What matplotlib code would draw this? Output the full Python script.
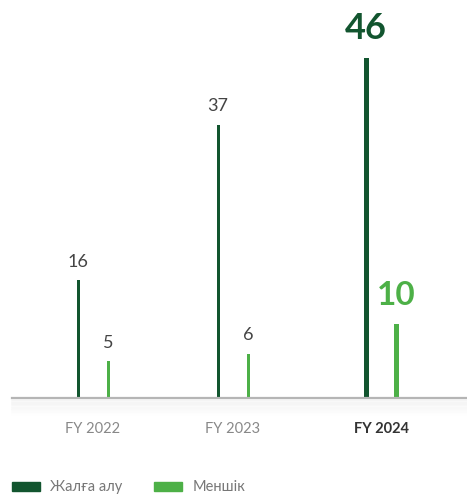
import matplotlib.pyplot as plt

# =========================
# DATA
# =========================
years = ["FY 2022", "FY 2023", "FY 2024"]
leased = [16, 37, 46]      # Жалға алу
owned = [5, 6, 10]         # Меншік
series_names = ["Жалға алу", "Меншік"]

# =========================
# STYLE
# =========================
plt.rcParams['font.family'] = ['Lato', 'DejaVu Sans']
dark = "#12552f"
light = "#4db047"
grey_txt = "#444444"

fig = plt.figure(figsize=(4.67, 4.94), dpi=100)
ax = fig.add_axes([12 / 467, 96 / 494, 455 / 467, 398 / 494])

pos = [0, 1, 2.057]
off = 0.107
widths = [0.022, 0.022, 0.036]

for i, (a, b) in enumerate(zip(leased, owned)):
    last = i == len(years) - 1
    ax.bar(pos[i] - off, a, width=widths[i], color=dark)
    ax.bar(pos[i] + off, b, width=widths[i], color=light)
    if last:
        ax.text(pos[i] - off, a + 1.8, str(a), ha="center", va="bottom",
                fontsize=26, fontweight="bold", color=dark)
        ax.text(pos[i] + off, b + 1.9, str(b), ha="center", va="bottom",
                fontsize=24, fontweight="bold", color=light)
    else:
        ax.text(pos[i] - off, a + 1.4, str(a), ha="center", va="bottom",
                fontsize=13, color=grey_txt)
        ax.text(pos[i] + off, b + 1.4, str(b), ha="center", va="bottom",
                fontsize=13, color=grey_txt)

ax.set_xlim(-0.579, 2.671)
ax.set_ylim(0, 53.9)

# baseline with soft shadow
for k in range(10):
    ax.axhline(-0.2 - k * 0.22, color="#888888", lw=1.8,
               alpha=0.06 * (1 - k / 10), clip_on=False)
ax.axhline(0, color="#b5b5b5", lw=1.6, clip_on=False)

for s in ax.spines.values():
    s.set_visible(False)
ax.set_yticks([])
ax.set_xticks(pos)
ax.set_xticklabels(years)
ax.tick_params(axis="x", length=0, pad=17, labelsize=10.5, labelcolor="#888888")
lbl = ax.get_xticklabels()[-1]
lbl.set_fontweight("bold")
lbl.set_color("#333333")

# =========================
# LEGEND
# =========================
fig.patches.append(plt.Rectangle((12 / 467, 3 / 494), 28 / 467, 9 / 494,
                                 transform=fig.transFigure, color=dark))
fig.text(50 / 467, 7 / 494, series_names[0], fontsize=10.5, color="#777777", va="center")
fig.patches.append(plt.Rectangle((154 / 467, 3 / 494), 28 / 467, 9 / 494,
                                 transform=fig.transFigure, color=light))
fig.text(193 / 467, 7 / 494, series_names[1], fontsize=10.5, color="#777777", va="center")

fig.savefig("out.png", dpi=100)
